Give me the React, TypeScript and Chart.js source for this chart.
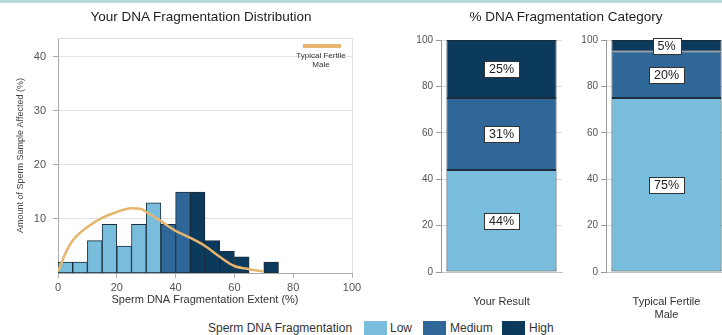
import React, { useEffect, useRef } from 'react';
import { Chart, registerables } from 'chart.js';

Chart.register(...registerables);
Chart.defaults.font.family = '"Liberation Sans", Arial, Helvetica, sans-serif';

// ---------- Data ----------
const binStarts = [0, 5, 10, 15, 20, 25, 30, 35, 40, 45, 50, 55, 60, 65, 70];
const binCounts = [2, 2, 6, 9, 5, 9, 13, 9, 15, 15, 6, 4, 3, null, 2];
const binLevels = ['Low', 'Low', 'Low', 'Low', 'Low', 'Low', 'Low', 'Medium', 'Medium', 'High', 'High', 'High', 'High', 'High', 'High'];
const binWidth = 5;

const fertileCurveX = [0, 1, 2.5, 5, 10, 15, 20, 25, 28, 30, 35, 40, 45, 50, 55, 60, 65, 70];
const fertileCurveY = [0.3, 1.6, 3.6, 6, 8.5, 10.2, 11.3, 12, 11.9, 11.3, 9.6, 7.8, 6.5, 5, 3, 1.3, 0.7, 0.3];

const histXTicks = [0, 20, 40, 60, 80, 100];
const histYTicks = [10, 20, 30, 40];

const categoryLabels: (string | string[])[] = ['Your Result', ['Typical Fertile', 'Male']];
const lowValues = [44, 75];
const mediumValues = [31, 20];
const highValues = [25, 5];
const categoryYTicks = [0, 20, 40, 60, 80, 100];

const levelNames = ['Low', 'Medium', 'High'];
const levelColors: Record<string, string> = { Low: '#79bddc', Medium: '#2f6898', High: '#0c3a5d' };
const barBorder = '#1b2c3b';
const curveColor = '#e8b56e';

// ---------- Plugins ----------
const framePlugin = {
  id: 'frame',
  beforeDatasetsDraw(chart: any) {
    const { ctx, chartArea } = chart;
    ctx.save();
    ctx.strokeStyle = '#dcdcdc';
    ctx.lineWidth = 1;
    ctx.beginPath();
    ctx.moveTo(chartArea.left, Math.round(chartArea.top) + 0.5);
    ctx.lineTo(Math.round(chartArea.right) + 0.5, Math.round(chartArea.top) + 0.5);
    ctx.lineTo(Math.round(chartArea.right) + 0.5, chartArea.bottom);
    ctx.stroke();
    ctx.restore();
  },
};

const segmentLabelPlugin = {
  id: 'segmentLabels',
  afterDatasetsDraw(chart: any) {
    const ctx = chart.ctx;
    ctx.save();
    ctx.font = '12.5px "Liberation Sans", Arial, sans-serif';
    ctx.textAlign = 'center';
    ctx.textBaseline = 'middle';
    chart.data.datasets.forEach((ds: any, di: number) => {
      const meta = chart.getDatasetMeta(di);
      meta.data.forEach((el: any, j: number) => {
        const v = ds.data[j];
        const { x, y, base } = el.getProps(['x', 'y', 'base'], true);
        const cy = (y + base) / 2;
        const text = v + '%';
        const w = Math.round(ctx.measureText(text).width + 10);
        const h = 16;
        const bx = Math.round(x - w / 2) + 0.5;
        const by = Math.round(cy - h / 2) + 0.5;
        ctx.fillStyle = '#ffffff';
        ctx.fillRect(bx, by, w, h);
        ctx.strokeStyle = '#333333';
        ctx.lineWidth = 1;
        ctx.strokeRect(bx, by, w, h);
        ctx.fillStyle = '#222222';
        ctx.fillText(text, x, cy + 1);
      });
    });
    ctx.restore();
  },
};

function HistogramChart() {
  const ref = useRef<HTMLCanvasElement>(null);
  useEffect(() => {
    const bars = binStarts.map((s, i) => ({ x: s + binWidth / 2, y: binCounts[i] }));
    const curve = fertileCurveX.map((x, i) => ({ x, y: fertileCurveY[i] }));
    const chart = new Chart(ref.current as HTMLCanvasElement, {
      type: 'bar',
      data: {
        datasets: [
          {
            type: 'line',
            data: curve,
            borderColor: curveColor,
            borderWidth: 2.5,
            pointRadius: 0,
            cubicInterpolationMode: 'monotone',
            order: 0,
          } as any,
          {
            type: 'bar',
            data: bars,
            backgroundColor: binLevels.map((l) => levelColors[l]),
            borderColor: barBorder,
            borderWidth: 1,
            borderSkipped: false,
            barPercentage: 1,
            categoryPercentage: 1,
            order: 1,
          } as any,
        ],
      },
      options: {
        animation: false,
        responsive: false,
        layout: { padding: { top: 38, right: 50, bottom: 1, left: 0 } },
        plugins: { legend: { display: false }, tooltip: { enabled: false }, title: { display: false } },
        scales: {
          x: {
            type: 'linear',
            min: 0,
            max: 100,
            offset: false,
            afterBuildTicks: (s: any) => { s.ticks = histXTicks.map((v) => ({ value: v })); },
            afterFit: (s: any) => { s.height = 36; },
            grid: { drawOnChartArea: false, drawTicks: true, tickLength: 5, color: '#b5b5b5', offset: false },
            border: { color: '#aaaaaa' },
            ticks: { color: '#555', font: { size: 11 }, padding: 3, maxRotation: 0, autoSkip: false },
            title: {
              display: true,
              text: 'Sperm DNA Fragmentation Extent (%)',
              color: '#333',
              font: { size: 11 },
              padding: { top: 0, bottom: 2 },
            },
          },
          y: {
            min: 0,
            max: 43.5,
            afterBuildTicks: (s: any) => { s.ticks = histYTicks.map((v) => ({ value: v })); },
            afterFit: (s: any) => { s.width = 58; },
            grid: { color: '#e3e3e3', tickColor: '#aaaaaa', tickLength: 5 },
            border: { color: '#aaaaaa' },
            ticks: { color: '#555', font: { size: 11 }, padding: 7 },
            title: {
              display: true,
              text: 'Amount of Sperm Sample Affected (%)',
              color: '#444',
              font: { size: 9 },
              padding: { top: 15, bottom: 0 },
            },
          },
        },
      } as any,
      plugins: [framePlugin],
    });
    return () => chart.destroy();
  }, []);
  return <canvas ref={ref} width={402} height={310} style={{ position: 'absolute', left: 0, top: 0 }} />;
}

function CategoryChart({ index, left }: { index: number; left: number }) {
  const ref = useRef<HTMLCanvasElement>(null);
  useEffect(() => {
    const valueSets = [lowValues, mediumValues, highValues];
    const chart = new Chart(ref.current as HTMLCanvasElement, {
      type: 'bar',
      data: {
        labels: [categoryLabels[index]] as any,
        datasets: levelNames.map((name, k) => ({
          label: name,
          data: [valueSets[k][index]],
          backgroundColor: levelColors[name],
          borderColor: barBorder,
          borderWidth: 1,
          borderSkipped: false,
          barPercentage: 0.91,
          categoryPercentage: 1,
        })) as any,
      },
      options: {
        animation: false,
        responsive: false,
        layout: { padding: { top: 40, right: 13, bottom: 0, left: 0 } },
        plugins: { legend: { display: false }, tooltip: { enabled: false } },
        scales: {
          x: {
            stacked: true,
            afterFit: (s: any) => { s.height = 48; },
            grid: { display: false, drawTicks: false },
            border: { display: true, color: '#c4c4c4' },
            ticks: { color: '#333', font: { size: 11, lineHeight: 1.15 }, padding: 24, maxRotation: 0 },
          },
          y: {
            stacked: true,
            min: 0,
            max: 100,
            afterBuildTicks: (s: any) => { s.ticks = categoryYTicks.map((v) => ({ value: v })); },
            afterFit: (s: any) => { s.width = 46; },
            grid: { color: '#dddddd', tickColor: '#999999', tickLength: 5 },
            border: { color: '#999999' },
            ticks: { color: '#555', font: { size: 10 }, padding: 3 },
          },
        },
      } as any,
      plugins: [segmentLabelPlugin],
    });
    return () => chart.destroy();
  }, [index]);
  return <canvas ref={ref} width={180} height={320} style={{ position: 'absolute', left, top: 0 }} />;
}

const font = '"Liberation Sans", Arial, Helvetica, sans-serif';

export default function App() {
  const legendItems = [
    { name: 'Low', swatch: 364, text: 390 },
    { name: 'Medium', swatch: 423, text: 450 },
    { name: 'High', swatch: 502, text: 529 },
  ];
  return (
    <div
      style={{
        position: 'fixed',
        left: 0,
        top: 0,
        width: 722,
        height: 335,
        overflow: 'hidden',
        background: '#ffffff',
        fontFamily: font,
      }}
    >
      <div style={{ position: 'absolute', left: 0, top: 0, width: 722, height: 3, background: '#b8dbdb' }} />
      <HistogramChart />
      <CategoryChart index={0} left={395} />
      <CategoryChart index={1} left={560} />
      <div
        style={{
          position: 'absolute', left: 0, top: 9, width: 402, textAlign: 'center',
          fontSize: 13.5, lineHeight: '16px', color: '#222',
        }}
      >
        Your DNA Fragmentation Distribution
      </div>
      <div
        style={{
          position: 'absolute', left: 410, top: 9, width: 312, textAlign: 'center',
          fontSize: 13.5, lineHeight: '16px', color: '#222',
        }}
      >
        % DNA Fragmentation Category
      </div>
      <div style={{ position: 'absolute', left: 303, top: 44, width: 38, height: 4, background: curveColor }} />
      <div
        style={{
          position: 'absolute', left: 281, top: 51, width: 80, textAlign: 'center',
          fontSize: 8, lineHeight: '9px', color: '#333',
        }}
      >
        Typical Fertile
        <br />
        Male
      </div>
      <div style={{ position: 'absolute', left: 208, top: 321, fontSize: 12, lineHeight: '14px', color: '#333', whiteSpace: 'nowrap' }}>
        Sperm DNA Fragmentation
      </div>
      {legendItems.map((it) => (
        <React.Fragment key={it.name}>
          <div
            style={{
              position: 'absolute', left: it.swatch, top: 321, width: 23, height: 16,
              background: levelColors[it.name],
            }}
          />
          <div style={{ position: 'absolute', left: it.text, top: 321, fontSize: 12, lineHeight: '14px', color: '#333' }}>
            {it.name}
          </div>
        </React.Fragment>
      ))}
    </div>
  );
}
